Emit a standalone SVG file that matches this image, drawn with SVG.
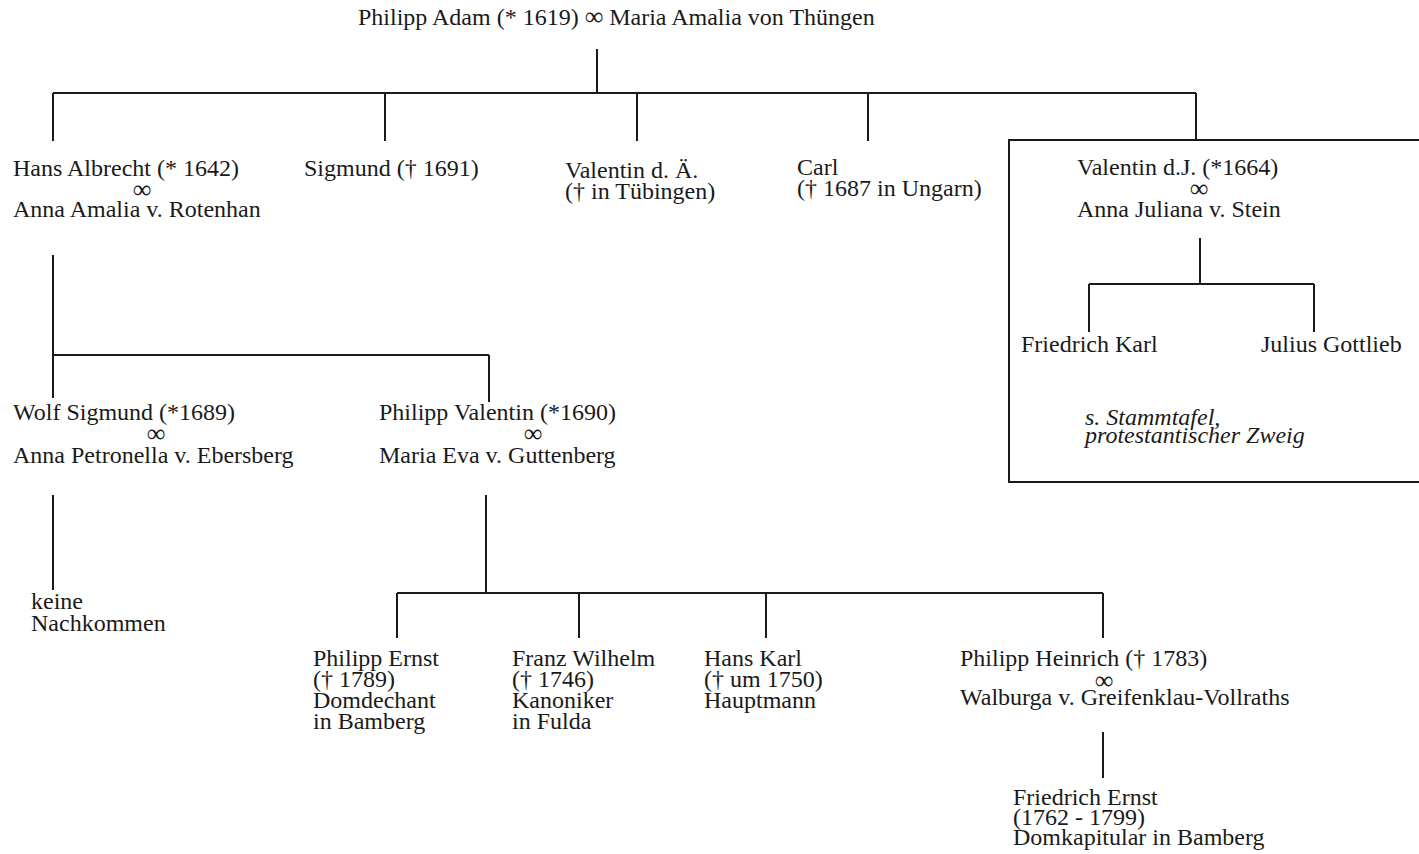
<svg xmlns="http://www.w3.org/2000/svg" width="1419" height="854" viewBox="0 0 1419 854">
<style>
  text { font-family: "Liberation Serif", "Times New Roman", serif; font-size: 24px; fill: #1a1a1a; }
  .m { font-size: 26px; text-anchor: middle; }
  .mt { font-size: 26px; }
  .it { font-style: italic; }
  .ln { stroke: #1a1a1a; stroke-width: 2; fill: none; }
</style>
<rect x="0" y="0" width="1419" height="854" fill="#ffffff"/>
<g id="connectors" class="ln">
  <path d="M597 49 V93 M53 93 H1196 M53 93 V141 M385 93 V141 M637 93 V141 M868 93 V141 M1196 93 V140"/>
  <path d="M1200 238 V284 M1089 284 H1314 M1089 284 V332 M1314 284 V332"/>
  <path d="M53 255 V398 M53 355 H489 M489 355 V402"/>
  <path d="M53 495 V590"/>
  <path d="M486 495 V593 M397 593 H1103 M397 593 V638 M579 593 V638 M766 593 V638 M1103 593 V638"/>
  <path d="M1103 732 V778"/>
</g>
<g id="protestant-branch-box">
  <rect x="1009" y="140" width="430" height="342" class="ln"/>
</g>
<g id="philipp-adam">
  <text x="358" y="25">Philipp Adam (* 1619) <tspan class="mt">∞</tspan> Maria Amalia von Thüngen</text>
</g>
<g id="hans-albrecht">
  <text x="13" y="176">Hans Albrecht (* 1642)<tspan class="m" x="142" y="198">∞</tspan><tspan x="13" y="217" style="text-anchor:start">Anna Amalia v. Rotenhan</tspan></text>
</g>
<g id="sigmund">
  <text x="304" y="176">Sigmund († 1691)</text>
</g>
<g id="valentin-ae">
  <text x="565" y="178">Valentin d. Ä.<tspan x="565" y="199">(† in Tübingen)</tspan></text>
</g>
<g id="carl">
  <text x="797" y="175">Carl<tspan x="797" y="196">(† 1687 in Ungarn)</tspan></text>
</g>
<g id="valentin-dj">
  <text x="1077" y="175">Valentin d.J. (*1664)<tspan class="m" x="1199" y="197">∞</tspan><tspan x="1077" y="217" style="text-anchor:start">Anna Juliana v. Stein</tspan></text>
</g>
<g id="friedrich-karl">
  <text x="1021" y="352">Friedrich Karl</text>
</g>
<g id="julius-gottlieb">
  <text x="1261" y="352">Julius Gottlieb</text>
</g>
<g id="stammtafel-note">
  <text class="it" x="1085" y="425">s. Stammtafel,<tspan x="1085" y="443">protestantischer Zweig</tspan></text>
</g>
<g id="wolf-sigmund">
  <text x="13" y="420">Wolf Sigmund (*1689)<tspan class="m" x="156" y="442">∞</tspan><tspan x="13" y="463" style="text-anchor:start">Anna Petronella v. Ebersberg</tspan></text>
</g>
<g id="philipp-valentin">
  <text x="379" y="420">Philipp Valentin (*1690)<tspan class="m" x="533" y="442">∞</tspan><tspan x="379" y="463" style="text-anchor:start">Maria Eva v. Guttenberg</tspan></text>
</g>
<g id="keine-nachkommen">
  <text x="31" y="609">keine<tspan x="31" y="631">Nachkommen</tspan></text>
</g>
<g id="philipp-ernst">
  <text x="313" y="666">Philipp Ernst<tspan x="313" y="687">(† 1789)</tspan><tspan x="313" y="708">Domdechant</tspan><tspan x="313" y="729">in Bamberg</tspan></text>
</g>
<g id="franz-wilhelm">
  <text x="512" y="666">Franz Wilhelm<tspan x="512" y="687">(† 1746)</tspan><tspan x="512" y="708">Kanoniker</tspan><tspan x="512" y="729">in Fulda</tspan></text>
</g>
<g id="hans-karl">
  <text x="704" y="666">Hans Karl<tspan x="704" y="687">(† um 1750)</tspan><tspan x="704" y="708">Hauptmann</tspan></text>
</g>
<g id="philipp-heinrich">
  <text x="960" y="666">Philipp Heinrich († 1783)<tspan class="m" x="1104" y="689">∞</tspan><tspan x="960" y="705" style="text-anchor:start">Walburga v. Greifenklau-Vollraths</tspan></text>
</g>
<g id="friedrich-ernst">
  <text x="1013" y="805">Friedrich Ernst<tspan x="1013" y="825">(1762 - 1799)</tspan><tspan x="1013" y="845">Domkapitular in Bamberg</tspan></text>
</g>
</svg>
